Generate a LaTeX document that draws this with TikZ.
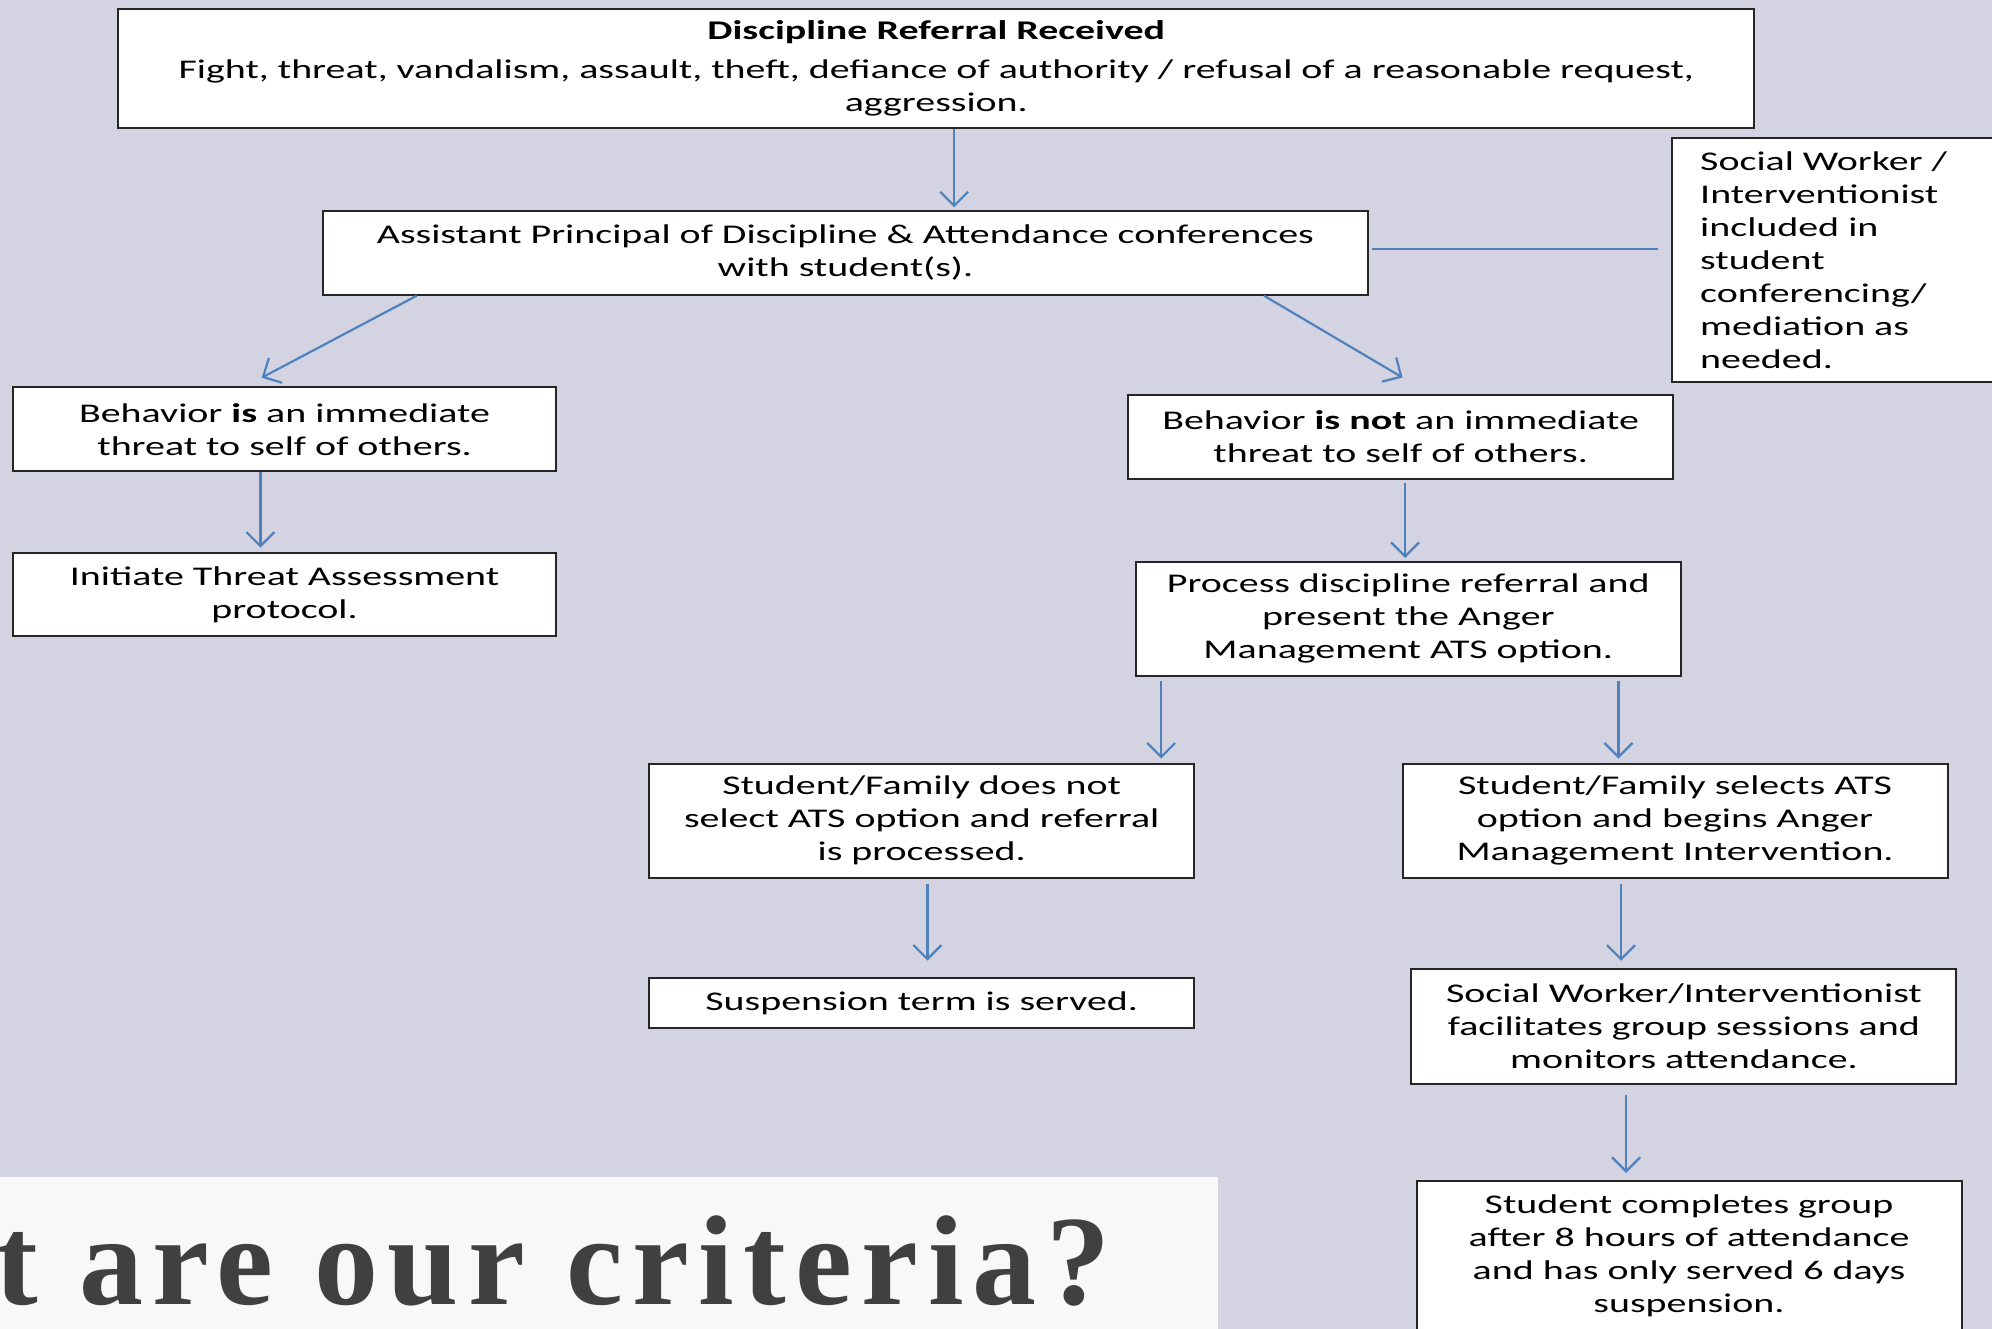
\documentclass[tikz,border=0pt]{standalone}
\usepackage{fontspec}
\setmainfont{Carlito}[FakeStretch=1.48]
\newfontfamily\titlefont{Liberation Serif}[LetterSpace=7.3]
\usetikzlibrary{arrows.meta,fit,calc}
\definecolor{bg}{RGB}{211,211,226}
\definecolor{panel}{RGB}{248,248,248}
\definecolor{arrowblue}{RGB}{79,129,189}
\definecolor{titlegray}{RGB}{64,64,64}
\begin{document}
\begin{tikzpicture}[x=0.6353pt,y=-0.6353pt,
  box/.style={draw=black!85, line width=1pt, fill=white, inner sep=0pt},
  txt/.style={inner sep=0pt, align=center, font=\fontsize{13.5}{16.5}\selectfont},
  arr/.style={draw=arrowblue, line width=1.1pt, -{Straight Barb[length=7pt,width=14pt]}},
  link/.style={draw=arrowblue, line width=1.1pt}]
\useasboundingbox (0,0) rectangle (1568,1046);
\fill[bg] (0,0) rectangle (1568,1046);

% boxes
\node[box, fit={(93,7)(1381,101)}] (referral) {};
\node[box, fit={(254,166)(1077,232)}] (ap) {};
\node[box, fit={(1316,109)(1572,301)}] (sw) {};
\node[box, fit={(10,305)(438,371)}] (lb) {};
\node[box, fit={(10,435)(438,501)}] (ti) {};
\node[box, fit={(888,311)(1317,377)}] (nb) {};
\node[box, fit={(894,442)(1323,532)}] (pd) {};
\node[box, fit={(511,601)(940,691)}] (dn) {};
\node[box, fit={(511,770)(940,809)}] (ss) {};
\node[box, fit={(1104,601)(1533,691)}] (sel) {};
\node[box, fit={(1111,763)(1540,853)}] (fac) {};
\node[box, fit={(1115,930)(1544,1062)}] (comp) {};

% texts
\node[txt] (referral-t) at (referral.center) {\textbf{Discipline Referral Received}\\[3pt]Fight, threat, vandalism, assault, theft, defiance of authority / refusal of a reasonable request,\\aggression.};
\node[txt] (ap-t) at (ap.center) {Assistant Principal of Discipline \& Attendance conferences\\with student(s).};
\node[txt, align=left, anchor=west] (sw-t) at (sw.center -| 1338,0) {Social Worker /\\Interventionist\\included in\\student\\conferencing/\\mediation as\\needed.};
\node[txt] (lb-t) at (lb.center) {Behavior \textbf{is} an immediate\\threat to self of others.};
\node[txt] (ti-t) at (ti.center) {Initiate Threat Assessment\\protocol.};
\node[txt] (nb-t) at (nb.center) {Behavior \textbf{is not} an immediate\\threat to self of others.};
\node[txt] (pd-t) at (pd.center) {Process discipline referral and\\present the Anger\\Management ATS option.};
\node[txt] (dn-t) at (dn.center) {Student/Family does not\\select ATS option and referral\\is processed.};
\node[txt] (ss-t) at (ss.center) {Suspension term is served.};
\node[txt] (sel-t) at (sel.center) {Student/Family selects ATS\\option and begins Anger\\Management Intervention.};
\node[txt] (fac-t) at (fac.center) {Social Worker/Interventionist\\facilitates group sessions and\\monitors attendance.};
\node[txt] (comp-t) at ([yshift=4.8pt]comp.center) {Student completes group\\after 8 hours of attendance\\and has only served 6 days\\suspension.};

% title panel
\node[fill=panel, inner sep=0pt, fit={(0,926.5)(958.5,1050)}] (panel) {};
\node[anchor=base west, text=titlegray, inner sep=0pt, font=\titlefont\bfseries\fontsize{64}{72}\selectfont] (criteria) at (-4,1027) {t are our criteria?};

% connectors
\draw[arr] (751,0 |- referral.south) -- ([yshift=1.3pt]751,0 |- ap.north);
\draw[arr] (328,0 |- ap.south) -- ([yshift=4.4pt]206,0 |- lb.north);
\draw[arr] (995,0 |- ap.south) -- ([yshift=8.3pt]1104,0 |- nb.north);
\draw[link] ([xshift=1.3pt]ap.east |- 0,196) -- ([xshift=-6.3pt]sw.west |- 0,196);
\draw[arr] (205,0 |- lb.south) -- ([yshift=2pt]205,0 |- ti.north);
\draw[arr] ([yshift=-1.3pt]1106,0 |- nb.south) -- ([yshift=1.3pt]1106,0 |- pd.north);
\draw[arr] ([yshift=-2pt]914,0 |- pd.south) -- ([yshift=2pt]914,0 |- dn.north);
\draw[arr] ([yshift=-2pt]1274,0 |- pd.south) -- ([yshift=2pt]1274,0 |- sel.north);
\draw[arr] ([yshift=-2.5pt]730,0 |- dn.south) -- ([yshift=8.3pt]730,0 |- ss.north);
\draw[arr] ([yshift=-2.5pt]1276,0 |- sel.south) -- ([yshift=3.8pt]1276,0 |- fac.north);
\draw[arr] ([yshift=-5pt]1280,0 |- fac.south) -- ([yshift=3.8pt]1280,0 |- comp.north);
\end{tikzpicture}
\end{document}
